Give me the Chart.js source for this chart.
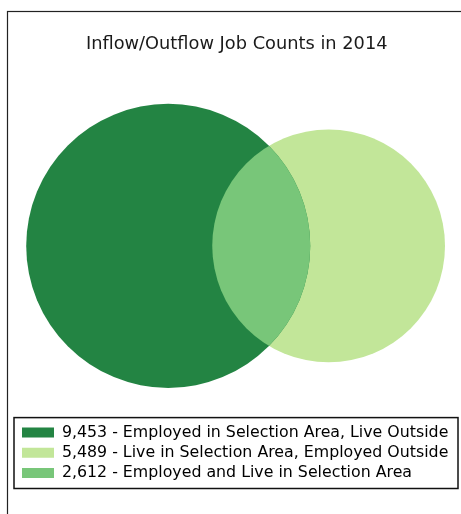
<!DOCTYPE html>
<html>
<head>
<meta charset="utf-8">
<script src="https://cdn.jsdelivr.net/npm/chart.js@4/dist/chart.umd.min.js"></script>
<style>
  html, body { margin: 0; padding: 0; background: #fff; }
  #wrap { width: 461px; height: 514px; }
</style>
</head>
<body>
<div id="wrap"><canvas id="myChart"></canvas></div>
<script>
// The data
var categories = [
  'Employed in Selection Area, Live Outside',
  'Live in Selection Area, Employed Outside',
  'Employed and Live in Selection Area'
];
var jobCounts = [9453, 5489, 2612];
var colors = ['#238443', '#c2e699', '#78c679'];

// circle areas = count of each set, overlap = shared count
var areaA = jobCounts[0] + jobCounts[2];
var areaB = jobCounts[1] + jobCounts[2];
var rA = Math.sqrt(areaA / Math.PI);
var rB = Math.sqrt(areaB / Math.PI);

function lensArea(r1, r2, d) {
  if (d >= r1 + r2) return 0;
  if (d <= Math.abs(r1 - r2)) return Math.PI * Math.pow(Math.min(r1, r2), 2);
  var a1 = r1 * r1 * Math.acos((d * d + r1 * r1 - r2 * r2) / (2 * d * r1));
  var a2 = r2 * r2 * Math.acos((d * d + r2 * r2 - r1 * r1) / (2 * d * r2));
  var k = 0.5 * Math.sqrt((-d + r1 + r2) * (d + r1 - r2) * (d - r1 + r2) * (d + r1 + r2));
  return a1 + a2 - k;
}

// find the distance between centres giving the shared area
var lo = Math.abs(rA - rB), hi = rA + rB;
for (var n = 0; n < 60; n++) {
  var mid = (lo + hi) / 2;
  if (lensArea(rA, rB, mid) > jobCounts[2]) lo = mid; else hi = mid;
}
var dist = (lo + hi) / 2;
var radii = [rA, rB];
var marginL = 3.8, marginR = 4.8;

// radius in pixels, taken from the x scale after layout
var pxRadii = [0, 0];
var radiusPlugin = {
  id: 'radii',
  afterLayout: function (chart) {
    var s = chart.scales.x;
    var zero = s.getPixelForValue(0);
    for (var k = 0; k < radii.length; k++) {
      var v = Math.abs(s.getPixelForValue(radii[k]) - zero);
      pxRadii[k] = isFinite(v) ? v : 0;
    }
  }
};

// frame + white background, box round the legend
var framePlugin = {
  id: 'frame',
  beforeDraw: function (chart) {
    var c = chart.ctx;
    c.save();
    c.fillStyle = '#fff';
    c.fillRect(0, 0, chart.width, chart.height);
    c.strokeStyle = '#222';
    c.lineWidth = 1.2;
    c.strokeRect(7.5, 11.5, 600, 600);
    c.restore();
  },
  afterDraw: function (chart) {
    var lg = chart.legend;
    var c = chart.ctx;
    c.save();
    c.strokeStyle = '#111';
    c.lineWidth = 1.5;
    c.strokeRect(lg.left - 3.5, lg.top - 2.5, lg.width + 5.5, lg.height);
    c.restore();
  }
};

// fill the overlapping part with its own colour
var overlapPlugin = {
  id: 'overlap',
  afterDatasetsDraw: function (chart) {
    var p0 = chart.getDatasetMeta(0).data[0];
    var p1 = chart.getDatasetMeta(1).data[0];
    if (!p0.options.radius || !p1.options.radius) return;
    var c = chart.ctx;
    c.save();
    c.beginPath();
    c.arc(p0.x, p0.y, p0.options.radius, 0, Math.PI * 2);
    c.clip();
    c.beginPath();
    c.arc(p1.x, p1.y, p1.options.radius, 0, Math.PI * 2);
    c.fillStyle = colors[2];
    c.fill();
    c.restore();
  }
};

var ctx = document.getElementById('myChart').getContext('2d');
var chart = new Chart(ctx, {
  type: 'bubble',
  data: {
    datasets: [{
      label: categories[0],
      data: [{ x: 0, y: 0, r: 0 }],
      backgroundColor: colors[0],
      borderWidth: 0,
      clip: false
    }, {
      label: categories[1],
      data: [{ x: dist, y: 0, r: 0 }],
      backgroundColor: colors[1],
      borderWidth: 0,
      clip: false
    }]
  },
  plugins: [radiusPlugin, framePlugin, overlapPlugin],
  options: {
    responsive: true,
    maintainAspectRatio: false,
    animation: false,
    events: [],
    layout: { autoPadding: false, padding: { left: 17.5, right: 5, top: 0, bottom: 23 } },
    scales: {
      x: { display: false, min: -rA - marginL, max: dist + rB + marginR },
      y: { display: false, min: -1, max: 1 }
    },
    plugins: {
      title: {
        display: true,
        text: 'Inflow/Outflow Job Counts in 2014',
        color: '#1a1a1a',
        font: { family: 'DejaVu Sans', size: 17.8, weight: 'normal', lineHeight: 1.2 },
        padding: { top: 33.3, bottom: 17 }
      },
      legend: {
        position: 'bottom',
        align: 'start',
        labels: {
          boxWidth: 32,
          boxHeight: 10,
          padding: 4.5,
          color: '#1a1a1a',
          font: { family: 'DejaVu Sans', size: 15.8 },
          generateLabels: function () {
            return categories.map(function (cat, i) {
              return {
                text: jobCounts[i].toLocaleString('en-US') + ' - ' + cat,
                fillStyle: colors[i],
                strokeStyle: colors[i],
                lineWidth: 0,
                hidden: false,
                index: i
              };
            });
          }
        }
      },
      tooltip: { enabled: false }
    }
  }
});

// second pass: bubble sizes from the scale
chart.data.datasets.forEach(function (ds, k) { ds.data[0].r = pxRadii[k]; });
chart.update('none');
</script>
</body>
</html>
